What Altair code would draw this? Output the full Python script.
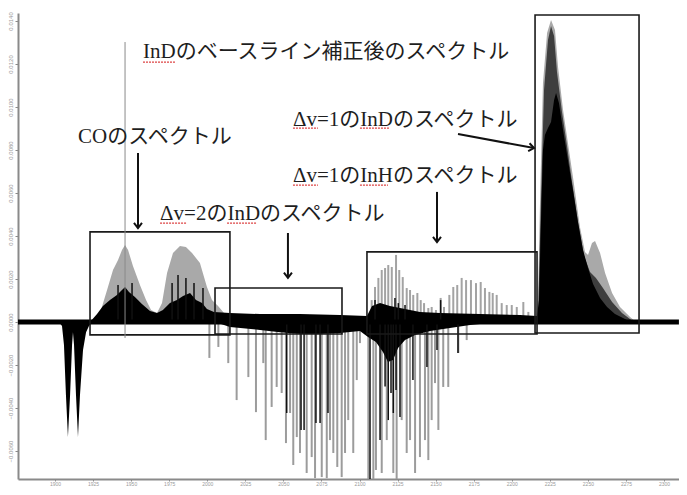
import altair as alt
import pandas as pd

# ---------------- data ----------------
x_ticks = [1900, 1925, 1950, 1975, 2000, 2025, 2050, 2075, 2100, 2125, 2150,
           2175, 2200, 2225, 2250, 2275, 2300]
y_ticks = [-0.006, -0.004, -0.002, 0.0, 0.002, 0.004, 0.006, 0.008, 0.010, 0.012, 0.014]

baseline_x = [1875.7, 2309.8]
baseline_y = [0.0, 0.0]

# negative CO doublet
co_dip_x = [1902.6, 1904.6, 1905.9, 1907.2, 1908.5, 1909.9, 1911.2, 1911.8, 1912.5,
            1913.8, 1915.1, 1916.4, 1918.4, 1920.4, 1922.3, 1924.3]
co_dip_y = [0, -0.00019, -0.00107, -0.00340, -0.00535, -0.00340, -0.00107, -0.00047,
            -0.00107, -0.00340, -0.00535, -0.00340, -0.00130, -0.00047, -0.00019, 0]

# light grey envelope (baseline-corrected InD spectrum)
light_x = [1926.3, 1930.2, 1934.2, 1938.1, 1941.4, 1944.0, 1946.0, 1948.0, 1951.2, 1955.8,
           1959.8, 1963.1, 1967.0, 1970.3, 1973.6, 1977.5, 1982.1, 1986.0, 1990.0, 1995.2,
           1999.8, 2003.1, 2007.1, 2011.0, 2014.9, 2017.0,
           2215.9, 2217.2, 2218.6, 2220.5, 2223.2, 2225.8, 2228.4, 2230.4, 2233.7, 2236.9,
           2240.2, 2244.8, 2248.1, 2250.1, 2252.7, 2254.7, 2258.0, 2261.3, 2265.9, 2271.1,
           2277.7, 2281.6]
light_y = [0, 0.00056, 0.00149, 0.00242, 0.00288, 0.00335, 0.00358, 0.00335, 0.00260, 0.00172,
           0.00102, 0.00056, 0.00042, 0.00088, 0.00228, 0.00321, 0.00353, 0.00349, 0.00321, 0.00274,
           0.00163, 0.00102, 0.00074, 0.00042, 0.00009, 0,
           0, 0.00102, 0.00567, 0.01112, 0.01344, 0.01405, 0.01358, 0.01186, 0.00986, 0.00833,
           0.00674, 0.00442, 0.00326, 0.00312, 0.00367, 0.00377, 0.00321, 0.00228, 0.00135, 0.00070,
           0.00023, 0]

# medium grey envelope (main peak)
mid_x = [2217.2, 2219.2, 2221.2, 2223.8, 2225.8, 2227.8, 2229.7, 2233.0, 2236.3, 2239.6,
         2243.5, 2247.5, 2251.4, 2255.3, 2259.9, 2265.9, 2272.4, 2280.3]
mid_y = [0, 0.00567, 0.01079, 0.01312, 0.01377, 0.01330, 0.01163, 0.00977, 0.00819, 0.00651,
         0.00465, 0.00307, 0.00233, 0.00205, 0.00158, 0.00093, 0.00042, 0]

# black spectrum envelope
black_x = [1923.0, 1927.6, 1931.5, 1936.1, 1940.7, 1944.0, 1946.0, 1948.6, 1952.5, 1957.1,
           1962.4, 1967.0, 1970.9, 1975.5, 1980.1, 1984.1, 1988.7, 1992.6, 1996.6, 1999.8,
           2004.4, 2014.9, 2034.7, 2060.9, 2087.2, 2104.9, 2108.2, 2113.5, 2120.0, 2126.6,
           2133.2, 2139.7, 2152.9, 2179.1, 2205.4, 2216.6, 2217.9, 2219.2, 2220.5, 2221.8,
           2223.8, 2225.8, 2227.8, 2229.1, 2231.0, 2233.7, 2236.9, 2240.2, 2243.5, 2246.8,
           2250.1, 2253.4, 2258.0, 2262.6, 2267.8, 2275.7, 2281.6]
black_y = [0, 0.00037, 0.00074, 0.00102, 0.00126, 0.00149, 0.00163, 0.00140, 0.00116, 0.00084,
           0.00051, 0.00042, 0.00056, 0.00088, 0.00102, 0.00121, 0.00135, 0.00102, 0.00088, 0.00060,
           0.00047, 0.00042, 0.00037, 0.00037, 0.00033, 0.00028, 0.00074, 0.00088, 0.00074, 0.00065,
           0.00056, 0.00047, 0.00042, 0.00037, 0.00033, 0.00028, 0.00102, 0.00474, 0.00800, 0.00870,
           0.00902, 0.00930, 0.01033, 0.01065, 0.01019, 0.00893, 0.00753, 0.00614, 0.00465, 0.00335,
           0.00251, 0.00177, 0.00112, 0.00070, 0.00037, 0.00009, 0]

# black negative band
black_neg_x = [2005.1, 2014.9, 2034.7, 2047.8, 2060.9, 2074.1, 2087.2, 2100.3, 2105.6, 2110.8,
               2115.4, 2118.7, 2122.0, 2125.3, 2129.9, 2136.5, 2146.3, 2159.4, 2172.6, 2185.7, 2192.3]
black_neg_y = [0, -0.00023, -0.00037, -0.00047, -0.00056, -0.00056, -0.00051, -0.00042, -0.00070,
               -0.00093, -0.00140, -0.00186, -0.00177, -0.00121, -0.00084, -0.00060, -0.00042,
               -0.00028, -0.00014, -0.00005, 0]

# grey positive lines (box 3)
gray_pos_x = [2108.0, 2110.2, 2112.4, 2114.6, 2116.8, 2118.9, 2121.2, 2124.0, 2126.1, 2128.4,
              2131.0, 2133.2, 2135.3, 2138.0, 2140.2, 2142.4, 2145.2, 2147.4, 2150.2, 2153.3,
              2155.5, 2159.0, 2161.6, 2164.2, 2167.1, 2170.0, 2173.2, 2176.5, 2179.6, 2182.4,
              2185.3, 2187.5, 2190.1, 2193.4, 2196.7, 2200.0, 2203.3, 2207.6, 2210.9]
gray_pos_y = [0.00102, 0.00163, 0.00205, 0.00242, 0.00251, 0.00265, 0.00256, 0.00312, 0.00242, 0.00209,
              0.00158, 0.00149, 0.00126, 0.00135, 0.00102, 0.00088, 0.00065, 0.00070, 0.00056, 0.00112,
              0.00070, 0.00126, 0.00163, 0.00172, 0.00205, 0.00195, 0.00195, 0.00181, 0.00186, 0.00158,
              0.00140, 0.00135, 0.00126, 0.00088, 0.00079, 0.00079, 0.00070, 0.00093, 0.00047]

# grey negative lines
gray_neg_x = [2001.4, 2007.3, 2013.8, 2019.3, 2027.0, 2032.0, 2036.8, 2038.4, 2042.3, 2045.6,
              2048.9, 2051.7, 2054.4, 2056.5, 2058.8, 2060.9, 2065.3, 2068.6, 2070.8, 2075.2,
              2078.5, 2080.6, 2082.8, 2085.4, 2088.3, 2090.5, 2092.6, 2095.9, 2098.2, 2100.3,
              2105.8, 2109.1, 2110.8, 2114.6, 2117.9, 2122.2, 2124.4, 2127.7, 2131.0, 2133.2,
              2136.5, 2139.7, 2143.0, 2145.2, 2147.4, 2149.6, 2151.8, 2155.0, 2158.3, 2164.9, 2170.4]
gray_neg_y = [-0.00167, -0.00116, -0.00191, -0.00363, -0.00256, -0.00419, -0.00191, -0.00549, -0.00395, -0.00302,
              -0.00330, -0.00563, -0.00423, -0.00665, -0.00535, -0.00609, -0.00702, -0.00628, -0.00726, -0.00721,
              -0.00726, -0.00549, -0.00609, -0.00674, -0.00721, -0.00609, -0.00456, -0.00609, -0.00270, -0.00098,
              -0.00735, -0.00735, -0.00688, -0.00702, -0.00549, -0.00702, -0.00735, -0.00456, -0.00609, -0.00549,
              -0.00702, -0.00628, -0.00549, -0.00642, -0.00456, -0.00284, -0.00502, -0.00302, -0.00302, -0.00144,
              -0.00084]

# black individual lines
black_line_x = [1941.4, 1950.6, 1976.9, 1980.8, 1986.0, 1991.3, 1997.2, 2110.2, 2123.3, 2125.5,
                2129.9, 2153.3,
                2052.2, 2061.6, 2063.6, 2071.4, 2074.1, 2079.3, 2106.9, 2113.5, 2116.8, 2118.9,
                2120.7, 2122.2, 2124.0, 2126.6, 2135.1, 2144.3, 2150.9, 2164.7]
black_line_y = [0.00172, 0.00181, 0.00181, 0.00219, 0.00205, 0.00181, 0.00158, 0.00102, 0.00112, 0.00088,
                0.00079, 0.00102,
                -0.00423, -0.00502, -0.00502, -0.00470, -0.00470, -0.00423, -0.00744, -0.00549, -0.00300,
                -0.00456, -0.00330, -0.00423, -0.00316, -0.00442, -0.00270, -0.00209, -0.00130, -0.00144]

# annotation boxes
box_x = [1923.0, 2005.1, 2104.9, 2215.3]
box_x2 = [2014.9, 2088.5, 2216.6, 2283.6]
box_y = [0.00419, 0.00158, 0.00326, 0.01428]
box_y2 = [-0.00060, -0.00056, -0.00056, -0.00051]

# arrows (start -> tip)
arr_x = [1954.5, 2053.0, 2150.9, 2164.7]
arr_y = [0.00786, 0.00414, 0.00605, 0.00874]
arr_x2 = [1954.5, 2053.0, 2150.9, 2214.6]
arr_y2 = [0.00437, 0.00205, 0.00372, 0.00809]
arr_angle = [0, 0, 0, 280]

# thin pointer line
pointer_x = [1946.0]
pointer_y = [0.01302]
pointer_y2 = [-0.00074]

# texts
txt_label = ["InDのベースライン補正後のスペクトル", "COのスペクトル", "Δv=1のInDのスペクトル",
             "Δv=1のInHのスペクトル", "Δv=2のInDのスペクトル"]
txt_x = [1957.8, 1915.1, 2056.3, 2056.3, 1969.0]
txt_y = [0.01256, 0.00860, 0.00940, 0.00679, 0.00502]

# red spell-check underlines
ul_x = [1957.8, 2056.3, 2100.3, 2056.3, 2100.3, 1969.0, 2013.0]
ul_x2 = [1978.8, 2072.7, 2120.0, 2072.7, 2118.7, 1986.7, 2032.7]
ul_y = [0.01209, 0.00902, 0.00902, 0.00637, 0.00637, 0.00460, 0.00460]

# ---------------- chart ----------------
xs = alt.Scale(domain=[1875.7, 2309.85], nice=False, zero=False)
ys = alt.Scale(domain=[-0.00730, 0.01437], nice=False, zero=False)
x_axis = alt.Axis(values=x_ticks, format="d", labelFontSize=5, labelColor="#9a9a9a",
                  labelFont="Liberation Sans", tickColor="#8a8a8a", tickSize=2,
                  domainColor="#8a8a8a", domainWidth=2, grid=False, labelPadding=0)
y_axis = alt.Axis(values=y_ticks, format=".4f", labelAngle=270, labelAlign="center",
                  labelBaseline="bottom", labelFontSize=6, labelColor="#9a9a9a",
                  labelFont="Liberation Sans", tickColor="#8a8a8a", tickSize=3,
                  domainColor="#8a8a8a", domainWidth=2, grid=False, labelPadding=2)

X = alt.X("x:Q", scale=xs, axis=x_axis, title=None)
Y = alt.Y("y:Q", scale=ys, axis=y_axis, title=None)
ZERO = alt.datum(0)


def df(x, y, **extra):
    d = pd.DataFrame({"x": x, "y": y})
    for k, v in extra.items():
        d[k] = v
    return d


light = alt.Chart(df(light_x, light_y)).mark_area(color="#a9a9a9").encode(x=X, y=Y, y2=ZERO)
gray_pos = alt.Chart(df(gray_pos_x, gray_pos_y)).mark_rule(color="#a3a3a3", strokeWidth=2).encode(x=X, y=Y, y2=ZERO)
mid = alt.Chart(df(mid_x, mid_y)).mark_area(color="#3e3e3e").encode(x=X, y=Y, y2=ZERO)
gray_neg = alt.Chart(df(gray_neg_x, gray_neg_y)).mark_rule(color="#9c9c9c", strokeWidth=2, clip=True).encode(x=X, y=Y, y2=ZERO)
black = alt.Chart(df(black_x, black_y)).mark_area(color="#000000").encode(x=X, y=Y, y2=ZERO)
black_neg = alt.Chart(df(black_neg_x, black_neg_y)).mark_area(color="#000000").encode(x=X, y=Y, y2=ZERO)
black_lines = alt.Chart(df(black_line_x, black_line_y)).mark_rule(color="#111111", strokeWidth=1.5, clip=True).encode(x=X, y=Y, y2=ZERO)
co_dip = alt.Chart(df(co_dip_x, co_dip_y)).mark_area(color="#000000").encode(x=X, y=Y, y2=ZERO)
base = alt.Chart(df(baseline_x, baseline_y)).mark_line(color="#000000", strokeWidth=5).encode(x=X, y=Y)

boxes = alt.Chart(pd.DataFrame({"x": box_x, "x2": box_x2, "y": box_y, "y2": box_y2})).mark_rect(
    fillOpacity=0, stroke="#1a1a1a", strokeWidth=1.6).encode(x=X, x2="x2:Q", y=Y, y2="y2:Q")

pointer = alt.Chart(pd.DataFrame({"x": pointer_x, "y": pointer_y, "y2": pointer_y2})).mark_rule(
    color="#8a8a8a", strokeWidth=1).encode(x=X, y=Y, y2="y2:Q")

arrows = alt.Chart(pd.DataFrame({"x": arr_x, "y": arr_y, "x2": arr_x2, "y2": arr_y2})).mark_rule(
    color="#111111", strokeWidth=2).encode(x=X, y=Y, x2="x2:Q", y2="y2:Q")
heads = alt.Chart(pd.DataFrame({"x": arr_x2, "y": arr_y2, "ang": arr_angle})).mark_point(
    shape="M-1,-1.3L0,0L1,-1.3", filled=False, size=64, strokeWidth=2, color="#111111", opacity=1
).encode(x=X, y=Y, angle=alt.Angle("ang:Q", scale=None))

texts = alt.Chart(pd.DataFrame({"x": txt_x, "y": txt_y, "label": txt_label})).mark_text(
    align="left", baseline="middle", fontSize=21,
    font="'Liberation Serif', 'Noto Sans CJK JP', serif", color="#1e1e1e"
).encode(x=X, y=Y, text="label:N")

underlines = alt.Chart(pd.DataFrame({"x": ul_x, "x2": ul_x2, "y": ul_y})).mark_rule(
    color="#dd4444", strokeWidth=1.2, strokeDash=[2, 1]).encode(x=X, x2="x2:Q", y=Y)

chart = alt.layer(
    light, gray_pos, mid, gray_neg, black, black_neg, black_lines, co_dip, base,
    boxes, pointer, arrows, heads, texts, underlines
).properties(
    width=661, height=466,
    padding={"left": 10, "top": 5, "right": 0, "bottom": 8},
    autosize=alt.AutoSizeParams(type="none"),
    background="white",
).configure_view(stroke=None)

chart.save("out.html", embed_options={"renderer": "svg", "actions": False})
